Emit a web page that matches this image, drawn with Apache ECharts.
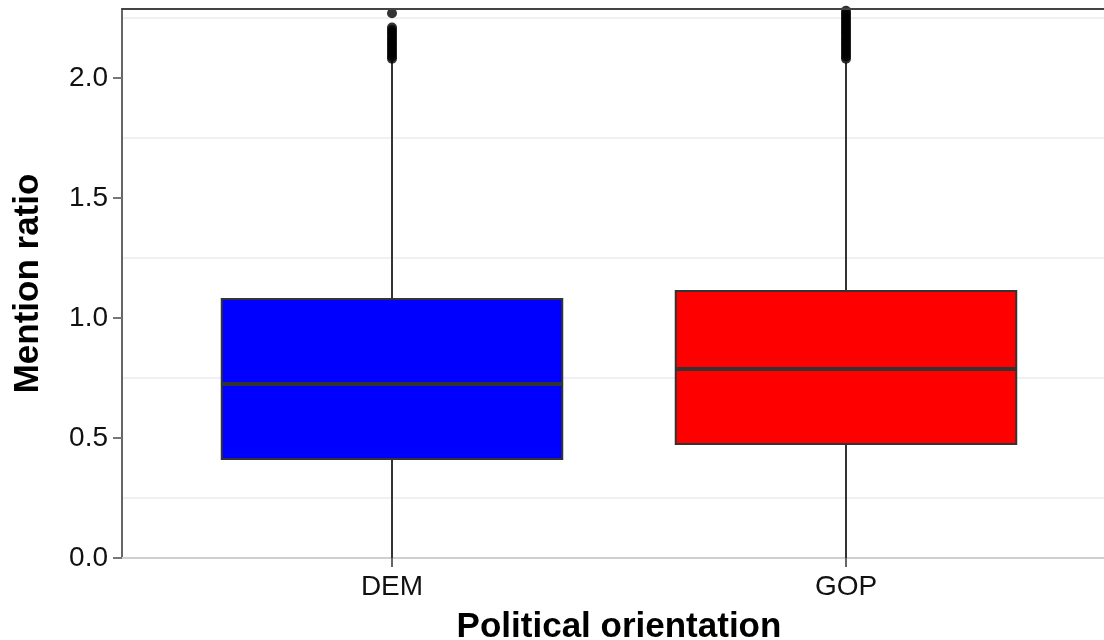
<!DOCTYPE html>
<html>
<head>
<meta charset="utf-8">
<script src="https://cdn.jsdelivr.net/npm/echarts@6/dist/echarts.min.js"></script>
<style>
  html, body { margin: 0; padding: 0; background: #fff; }
  #chart { width: 1104px; height: 640px; }
</style>
</head>
<body>
<div id="chart"></div>
<script>
// Box summaries per group
const categories = ['DEM', 'GOP'];
const lowerWhisker = [0, 0];
const q1 = [0.4125, 0.475];
const medians = [0.725, 0.7875];
const q3 = [1.079, 1.1125];
const upperWhisker = [2.07, 2.065];
const boxColors = ['#0000ff', '#ff0000'];

// Points beyond the upper whisker
const demOutliers = [2.08, 2.09, 2.10, 2.11, 2.12, 2.13, 2.14, 2.15, 2.16, 2.17, 2.18, 2.19, 2.20, 2.21, 2.27];
const gopOutliers = [2.08, 2.09, 2.10, 2.11, 2.12, 2.13, 2.14, 2.15, 2.16, 2.17, 2.18, 2.19, 2.20,
                     2.21, 2.22, 2.23, 2.24, 2.25, 2.26, 2.27, 2.28];

// Value axis
const yMin = 0;
const yMax = 2.2875;
const yInterval = 0.5;
const yTicks = [0, 0.5, 1.0, 1.5, 2.0];
const minorGrid = [0.25, 0.75, 1.25, 1.75, 2.25];

const FONT = '"Liberation Sans", Arial, Helvetica, sans-serif';
const INK = '#333333';

const chart = echarts.init(document.getElementById('chart'), null, { renderer: 'canvas' });

const boxData = categories.map((c, i) => [i, lowerWhisker[i], q1[i], medians[i], q3[i], upperWhisker[i]]);
const outlierData = []
  .concat(demOutliers.map(v => [0, v]))
  .concat(gopOutliers.map(v => [1, v]));

function renderBox(params, api) {
  const idx = api.value(0);
  const band = api.size([1, 0])[0];
  const half = band * 0.75 / 2;
  const pLo = api.coord([idx, api.value(1)]);
  const pQ1 = api.coord([idx, api.value(2)]);
  const pMed = api.coord([idx, api.value(3)]);
  const pQ3 = api.coord([idx, api.value(4)]);
  const pHi = api.coord([idx, api.value(5)]);
  const cx = pMed[0];
  return {
    type: 'group',
    children: [
      { type: 'line', shape: { x1: cx, y1: pLo[1], x2: cx, y2: pQ1[1] },
        style: { stroke: INK, lineWidth: 2 } },
      { type: 'line', shape: { x1: cx, y1: pQ3[1], x2: cx, y2: pHi[1] },
        style: { stroke: INK, lineWidth: 2 } },
      { type: 'rect', shape: { x: cx - half, y: pQ3[1], width: half * 2, height: pQ1[1] - pQ3[1] },
        style: { fill: boxColors[idx], stroke: INK, lineWidth: 2 } },
      { type: 'line', shape: { x1: cx - half, y1: pMed[1], x2: cx + half, y2: pMed[1] },
        style: { stroke: INK, lineWidth: 4 } }
    ]
  };
}

const option = {
  backgroundColor: '#ffffff',
  animation: false,
  grid: [
    // panel frame, y axis and grid lines
    { left: 122, top: 9, width: 996, height: 549, containLabel: false, outerBoundsMode: 'none' },
    // discrete x positions for the boxes
    { left: 165, top: 9, width: 908, height: 549, containLabel: false, outerBoundsMode: 'none' }
  ],
  xAxis: [
    { gridIndex: 0, type: 'value', min: 0, max: 1, position: 'bottom',
      axisLine: { show: true, lineStyle: { color: '#cfcfcf', width: 2 } },
      axisTick: { show: false }, axisLabel: { show: false }, splitLine: { show: false } },
    { gridIndex: 0, type: 'value', min: 0, max: 1, position: 'top', z: 5,
      axisLine: { show: true, lineStyle: { color: '#444', width: 2 } },
      axisTick: { show: false }, axisLabel: { show: false }, splitLine: { show: false } },
    { gridIndex: 1, type: 'category', data: categories, position: 'bottom',
      axisLine: { show: false },
      axisTick: { show: true, alignWithLabel: true, length: 9, lineStyle: { color: '#666', width: 2 } },
      axisLabel: { fontFamily: FONT, fontSize: 28, color: '#111', margin: 15 },
      splitLine: { show: false },
      name: 'Political orientation', nameLocation: 'middle', nameGap: 52,
      nameTextStyle: { fontFamily: FONT, fontSize: 35, fontWeight: 'bold', color: '#000' } }
  ],
  yAxis: [
    { gridIndex: 0, type: 'value', min: yMin, max: yMax, interval: yInterval,
      axisLine: { show: true, lineStyle: { color: '#666', width: 2 } },
      axisTick: { show: true, length: 9, customValues: yTicks, lineStyle: { color: '#777', width: 2 } },
      axisLabel: { fontFamily: FONT, fontSize: 28, color: '#111', margin: 14, customValues: yTicks,
        formatter: v => v.toFixed(1) },
      splitLine: { show: false },
      name: 'Mention ratio', nameLocation: 'middle', nameRotate: 90, nameGap: 76,
      nameTextStyle: { fontFamily: FONT, fontSize: 35, fontWeight: 'bold', color: '#000' } },
    { gridIndex: 1, type: 'value', min: yMin, max: yMax, interval: yInterval, show: false,
      splitLine: { show: false } }
  ],
  series: [
    {
      // light horizontal lines between the labelled ticks
      type: 'line', xAxisIndex: 0, yAxisIndex: 0, data: [], z: 0, silent: true,
      markLine: {
        z: 0, silent: true, symbol: ['none', 'none'], label: { show: false },
        lineStyle: { color: '#ebebeb', width: 1.5, type: 'solid' },
        data: minorGrid.map(v => ({ yAxis: v }))
      }
    },
    {
      type: 'custom', xAxisIndex: 2, yAxisIndex: 1, z: 3,
      renderItem: renderBox,
      encode: { x: 0, y: [1, 2, 3, 4, 5] },
      data: boxData
    },
    {
      type: 'scatter', xAxisIndex: 2, yAxisIndex: 1, z: 4,
      symbol: 'circle', symbolSize: 10,
      itemStyle: { color: '#000' },
      data: outlierData
    }
  ]
};

chart.setOption(option);
</script>
</body>
</html>
